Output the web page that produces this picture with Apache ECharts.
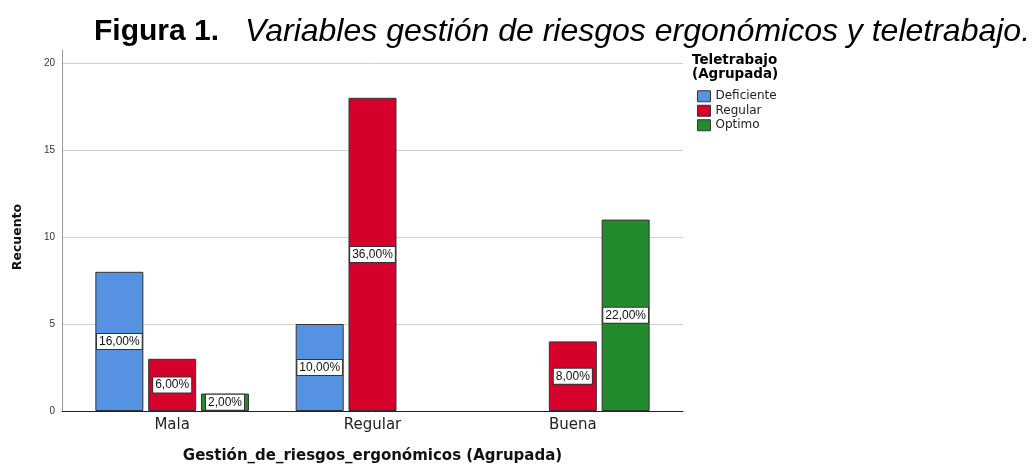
<!DOCTYPE html>
<html>
<head>
<meta charset="utf-8">
<script src="https://cdn.jsdelivr.net/npm/echarts@6/dist/echarts.min.js"></script>
<style>
  html, body { margin: 0; padding: 0; background: #fff; }
  #chart { width: 1032px; height: 464px; }
</style>
</head>
<body>
<div id="chart"></div>
<script>
// categorías del eje x
const categories = ['Mala', 'Regular', 'Buena']
// recuentos por grupo de teletrabajo (null = sin casos)
const deficiente = [8, 5, null]
const regular = [3, 18, 4]
const optimo = [1, null, 11]
const seriesNames = ['Deficiente', 'Regular', 'Optimo']
const yTicks = [0, 5, 10, 15, 20]

const total = [...deficiente, ...regular, ...optimo].reduce((s, v) => s + (v || 0), 0)
const colors = ['#5592e2', '#d5002c', '#238a2e']
const font = 'Arial, "Liberation Sans", sans-serif'
const wide = '"DejaVu Sans", sans-serif'

const chart = echarts.init(document.getElementById('chart'))

const pct = v => (v / total * 100).toFixed(2).replace('.', ',') + '%'

const makeSeries = (name, data, i) => ({
  name: name,
  type: 'bar',
  xAxisIndex: 1,
  yAxisIndex: 1,
  data: data,
  barWidth: 48,
  barGap: '10%',
  itemStyle: {
    color: colors[i],
    borderColor: '#333',
    borderWidth: 1
  },
  label: {
    show: true,
    position: 'inside',
    formatter: p => pct(p.value),
    fontFamily: font,
    fontSize: 12,
    color: '#111',
    backgroundColor: '#fff',
    borderColor: '#333',
    borderWidth: 1,
    padding: [2, 2, 1, 2]
  },
  emphasis: { disabled: true }
})

const option = {
  animation: false,
  backgroundColor: '#fff',
  title: [
    {
      left: 94,
      top: 16,
      padding: 0,
      text: '{b|Figura 1.}{i|Variables gestión de riesgos ergonómicos y teletrabajo.}',
      textStyle: {
        rich: {
          b: { fontFamily: font, fontSize: 30, fontWeight: 'bold', color: '#000', padding: [0, 26, 0, 0] },
          i: { fontFamily: font, fontSize: 32, fontWeight: 'normal', fontStyle: 'italic', color: '#000' }
        }
      }
    },
    {
      left: 692,
      top: 53,
      padding: 0,
      text: 'Teletrabajo\n(Agrupada)',
      textStyle: { fontFamily: wide, fontSize: 13.5, fontWeight: 'bold', color: '#000', lineHeight: 14 }
    }
  ],
  legend: {
    orient: 'vertical',
    left: 697,
    top: 90,
    padding: 0,
    itemWidth: 13,
    itemHeight: 11,
    itemGap: 2,
    icon: 'rect',
    data: seriesNames,
    itemStyle: { borderColor: '#333', borderWidth: 1 },
    textStyle: { fontFamily: wide, fontSize: 12, color: '#222', lineHeight: 12.5 }
  },
  grid: [
    { left: 62, right: 349, top: 50, bottom: 53, outerBoundsMode: 'none' },
    { left: 72, right: 359, top: 63, bottom: 53, outerBoundsMode: 'none' }
  ],
  xAxis: [
    {
      gridIndex: 0,
      type: 'value',
      min: 0,
      max: 1,
      axisLine: { show: true, onZero: false, lineStyle: { color: '#222', width: 1 } },
      axisTick: { show: false },
      axisLabel: { show: false },
      splitLine: { show: false }
    },
    {
      gridIndex: 1,
      type: 'category',
      data: categories,
      axisLine: { show: false },
      axisTick: { show: false },
      axisLabel: { fontFamily: wide, fontSize: 15, color: '#222', margin: 7 },
      name: 'Gestión_de_riesgos_ergonómicos (Agrupada)',
      nameLocation: 'middle',
      nameGap: 38,
      nameTextStyle: { fontFamily: wide, fontSize: 15, fontWeight: 'bold', color: '#111' }
    }
  ],
  yAxis: [
    {
      gridIndex: 0,
      type: 'value',
      min: yTicks[0],
      max: 20.75,
      interval: 5,
      axisLine: { show: true, lineStyle: { color: '#999', width: 1 } },
      axisTick: { show: false },
      axisLabel: {
        fontFamily: font, fontSize: 10, color: '#333', margin: 7,
        showMaxLabel: false,
        formatter: v => (yTicks.includes(v) ? String(v) : '')
      },
      splitLine: { show: true, showMaxLine: false, lineStyle: { color: '#d0d0d0', width: 1 } }
    },
    {
      gridIndex: 1,
      type: 'value',
      min: yTicks[0],
      max: yTicks[yTicks.length - 1],
      axisLine: { show: false },
      axisTick: { show: false },
      axisLabel: { show: false },
      splitLine: { show: false },
      name: 'Recuento',
      nameLocation: 'middle',
      nameGap: 48,
      nameTextStyle: { fontFamily: wide, fontSize: 12.5, fontWeight: 'bold', color: '#111' }
    }
  ],
  series: [
    makeSeries(seriesNames[0], deficiente, 0),
    makeSeries(seriesNames[1], regular, 1),
    makeSeries(seriesNames[2], optimo, 2)
  ]
}

chart.setOption(option)

window.addEventListener('resize', () => {
  chart.resize()
})
</script>
</body>
</html>
